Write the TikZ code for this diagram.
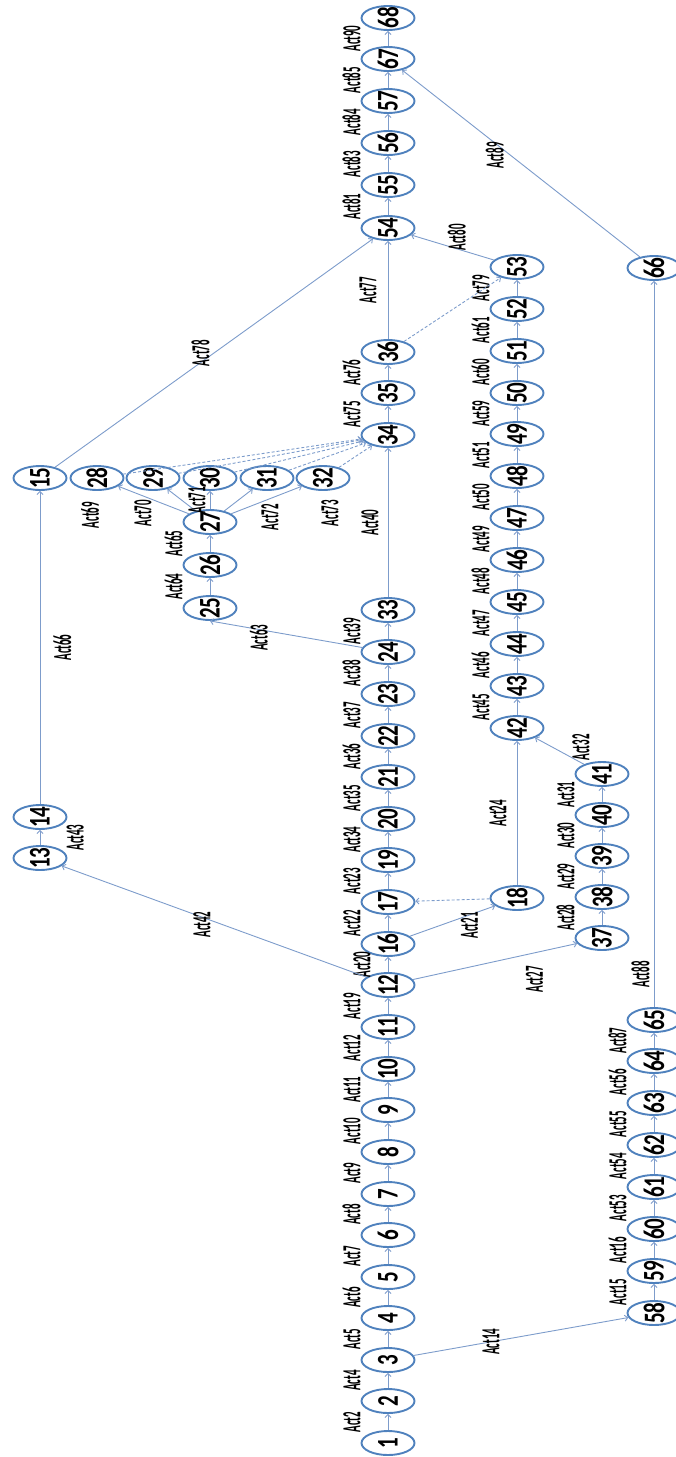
\documentclass[tikz,border=0pt]{standalone}
\usepackage{fontspec}
\usetikzlibrary{arrows.meta, shapes.geometric}
\newfontfamily\evfont[FakeStretch=0.7]{Carlito}
\newfontfamily\actfont[FakeStretch=0.42]{Carlito}
\definecolor{evblue}{HTML}{4F81BD}
\definecolor{lnblue}{HTML}{7D9CCB}
\tikzset{
  ev/.style={ellipse, draw=evblue, line width=1.9pt, rotate=90,
    minimum width=24pt, minimum height=53pt, inner sep=-3pt,
    font=\evfont\bfseries\fontsize{30}{30}\selectfont},
  act/.style={rotate=90, inner sep=1pt, font=\actfont\bfseries\fontsize{26}{26}\selectfont},
  edge/.style={->, draw=lnblue, line width=0.9pt},
  dummy/.style={edge, dash pattern=on 3pt off 2pt}
}
\begin{document}
\begin{tikzpicture}[x=1pt, y=-1pt, >={Straight Barb[length=3pt,width=6pt]}]
    \useasboundingbox (0,0) rectangle (675,1457);
    % Events, main chain
    \foreach \n/\y in {1/1443, 2/1401, 3/1360, 4/1318, 5/1277, 6/1235, 7/1194,
        8/1152, 9/1110, 10/1069, 11/1027, 12/985, 16/944, 17/902, 19/860,
        20/819, 21/777, 22/736, 23/694, 24/652, 33/610, 34/435, 35/393,
        36/352, 54/228, 55/185, 56/143, 57/101, 67/59, 68/18}
      \node[ev] (n\n) at (388,\y) {\n};
    % Events, second chain
    \foreach \n/\y in {18/898, 42/728, 43/686, 44/644, 45/602, 46/560, 47/518,
        48/476, 49/434, 50/393, 51/351, 52/309, 53/267}
      \node[ev] (n\n) at (517,\y) {\n};
    \foreach \n/\y in {37/938, 38/897, 39/856, 40/815, 41/774}
      \node[ev] (n\n) at (602,\y) {\n};
    \foreach \n/\y in {58/1313, 59/1271, 60/1229, 61/1187, 62/1145, 63/1103,
        64/1061, 65/1020, 66/268}
      \node[ev] (n\n) at (654,\y) {\n};
    % Events, upper branches
    \foreach \n/\x/\y in {13/40/858, 14/40/817, 15/40/478, 28/97/478,
        29/153/478, 30/210/478, 31/267/478, 32/323/478, 27/210/522,
        26/210/565, 25/210/608}
      \node[ev] (n\n) at (\x,\y) {\n};
    % Activities between neighbours
    \foreach \a/\b/\lbl in {1/2/Act2, 2/3/Act4, 3/4/Act5, 4/5/Act6, 5/6/Act7,
        6/7/Act8, 7/8/Act9, 8/9/Act10, 9/10/Act11, 10/11/Act12, 11/12/Act19,
        16/17/Act22, 17/19/Act23, 19/20/Act34, 20/21/Act35, 21/22/Act36,
        22/23/Act37, 23/24/Act38, 24/33/Act39, 34/35/Act75, 35/36/Act76,
        54/55/Act81, 55/56/Act83, 56/57/Act84, 57/67/Act85, 67/68/Act90,
        42/43/Act45, 43/44/Act46, 44/45/Act47, 45/46/Act48, 46/47/Act49,
        47/48/Act50, 48/49/Act51, 49/50/Act59, 50/51/Act60, 51/52/Act61,
        52/53/Act79, 37/38/Act28, 38/39/Act29, 39/40/Act30, 40/41/Act31,
        58/59/Act15, 59/60/Act16, 60/61/Act53, 61/62/Act54, 62/63/Act55,
        63/64/Act56, 64/65/Act87, 25/26/Act64, 26/27/Act65}
      \draw[edge] (n\a) -- node[act, above=26pt] {\lbl} (n\b);
    % Long activities
    \draw[edge] (n12) -- node[act, above=16pt] {Act20} (n16);
    \draw[edge] (n33) -- node[act, above=8pt] {Act40} (n34);
    \draw[edge] (n36) -- node[act, above=10pt] {Act77} (n54);
    \draw[edge] (n18) -- node[act, above=9pt] {Act24} (n42);
    \draw[edge] (n13) -- node[act, below=25pt] {Act43} (n14);
    \draw[edge] (n14) -- node[act, below=12pt] {Act66} (n15);
    \draw[edge] (n65) -- node[act, pos=0.045, above=3pt] {Act88} (n66);
    \draw[edge] (n3) -- node[act, pos=0.36] {Act14} (n58);
    \draw[edge] (n12) -- node[act, pos=0.54, left=-7pt] {Act42} (n13);
    \draw[edge] (n15) -- node[act, pos=0.5, above=3pt] {Act78} (n54);
    \draw[edge] (n12) -- node[act, pos=0.74, left=12pt] {Act27} (n37);
    \draw[edge] (n16) -- node[act, pos=0.7, left=-4pt] {Act21} (n18);
    \draw[edge] (n24) -- node[act, pos=0.68, left=-6pt] {Act63} (n25.west);
    \draw[edge] (n41) -- node[act, pos=0.06, right=1pt] {Act32} (n42);
    \draw[edge] (n53) -- node[act, pos=0.45, right=-3pt] {Act80} (n54);
    \draw[edge] (n66) -- node[act, pos=0.61, left=-2pt] {Act89} (n67);
    % Fan out of 27
    \foreach \m in {28,...,32}
      \draw[edge] (n27) -- (n\m);
    \foreach \x/\y/\lbl in {90/515/Act69, 143/513/Act70, 197/500/Act71,
        270/517/Act72, 330/513/Act73}
      \node[act] (l\lbl) at (\x,\y) {\lbl};
    % Dummy activities
    \foreach \m in {28,...,32}
      \draw[dummy] (n\m) -- (n34);
    \draw[dummy] (n18) -- (n17);
    \draw[dummy] (n36) -- (n53);
\end{tikzpicture}
\end{document}
